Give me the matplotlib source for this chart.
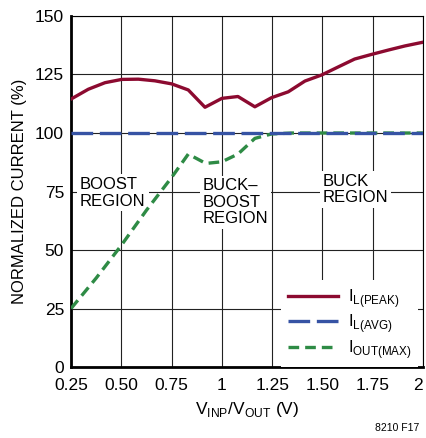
import numpy as np
import matplotlib.pyplot as plt
from matplotlib import font_manager

names = {f.name for f in font_manager.fontManager.ttflist}
fam = 'Liberation Sans Narrow' if 'Liberation Sans Narrow' in names else 'Liberation Sans'
plt.rcParams['font.family'] = [fam, 'DejaVu Sans']
plt.rcParams['mathtext.fontset'] = 'custom'
plt.rcParams['mathtext.rm'] = fam

# donnees
x_peak = [0.25, 0.336, 0.419, 0.502, 0.585, 0.667, 0.75, 0.833, 0.916, 1.0, 1.08,
          1.164, 1.247, 1.33, 1.413, 1.496, 1.58, 1.66, 1.745, 1.83, 1.91, 2.0]
i_peak = [114.5, 118.7, 121.5, 122.9, 123.0, 122.3, 121.0, 118.4, 111.0, 114.8, 115.6,
          111.2, 115.1, 117.6, 122.2, 124.8, 128.3, 131.6, 133.6, 135.5, 137.2, 138.8]

x_avg = [0.25, 2.0]
i_avg = [100, 100]

x_out = [0.25, 0.375, 0.5, 0.625, 0.75, 0.833, 0.92, 1.0, 1.08, 1.164, 1.247, 1.35, 2.0]
i_out = [25, 38, 52, 67, 81, 91, 87, 87.7, 91, 97.7, 99.6, 100, 100]

xticks = [0.25, 0.5, 0.75, 1.0, 1.25, 1.5, 1.75, 2.0]
xlabels = ['0.25', '0.50', '0.75', '1', '1.25', '1.50', '1.75', '2']
yticks = [0, 25, 50, 75, 100, 125, 150]

fig = plt.figure(figsize=(4.26, 4.38), dpi=100)
ax = fig.add_axes([0.1667, 0.162, 0.8263, 0.8015])

ax.plot(x_out, i_out, color='#2e8b45', lw=2.4, dashes=(3.2, 1.8), label=r'I$_{\mathregular{OUT(MAX)}}$', zorder=3)
ax.plot(x_avg, i_avg, color='#3653a4', lw=2.4, dashes=(6.5, 2.0), label=r'I$_{\mathregular{L(AVG)}}$', zorder=4)
ax.plot(x_peak, i_peak, color='#8c0a30', lw=2.4, label=r'I$_{\mathregular{L(PEAK)}}$', zorder=5)

ax.set_xlim(0.25, 2.0)
ax.set_ylim(0, 150)
ax.set_xticks(xticks)
ax.set_xticklabels(xlabels)
ax.set_yticks(yticks)
ax.grid(True, color='#222222', lw=0.8)
ax.tick_params(length=0, labelsize=12.5)
ax.tick_params(axis='x', pad=8)
ax.tick_params(axis='y', pad=5)
# le "2" colle au bord droit
ax.get_xticklabels()[-1].set_horizontalalignment('right')
for s in ['left', 'bottom']:
    ax.spines[s].set_linewidth(2)
for s in ['top', 'right']:
    ax.spines[s].set_linewidth(0.8)

ax.set_xlabel(r'V$_{\mathregular{INP}}$/V$_{\mathregular{OUT}}$ (V)', fontsize=12.5, labelpad=5)
ax.set_ylabel('NORMALIZED CURRENT (%)', fontsize=12, labelpad=6)

bb = dict(facecolor='white', edgecolor='none', pad=2)
ax.text(0.295, 74.4, 'BOOST\nREGION', fontsize=12, linespacing=1.1, va='center', ha='left', bbox=bb, zorder=2)
ax.text(0.905, 70.5, 'BUCK–\nBOOST\nREGION', fontsize=12, linespacing=1.1, va='center', ha='left', bbox=bb, zorder=2)
ax.text(1.50, 76, 'BUCK\nREGION', fontsize=12, linespacing=1.1, va='center', ha='left', bbox=bb, zorder=2)

h, l = ax.get_legend_handles_labels()
leg = ax.legend(h[::-1], l[::-1], loc='lower right', bbox_to_anchor=(1.0, -0.015),
                fontsize=12, frameon=True, framealpha=1,
                edgecolor='none', fancybox=False, handlelength=3.0, handletextpad=0.6,
                labelspacing=0.15, borderaxespad=0.3)

fig.text(0.985, 0.012, '8210 F17', fontsize=7.5, ha='right', va='bottom')

plt.savefig('out.png', dpi=100)
